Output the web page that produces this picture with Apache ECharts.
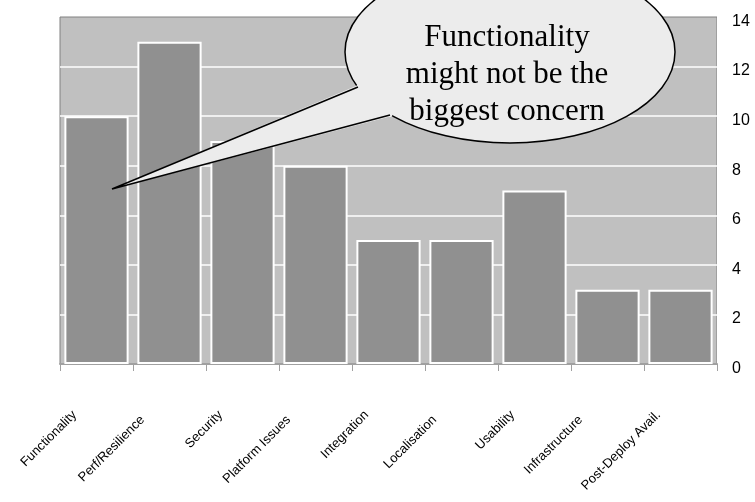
<!DOCTYPE html>
<html>
<head>
    <meta charset="utf-8">
    <script src="https://cdn.jsdelivr.net/npm/echarts@6/dist/echarts.min.js"></script>
</head>
<body style="margin:0">
    <div id="chart" style="width:755px;height:502px"></div>
<script>
// issue counts per category
const categories = ['Functionality', 'Perf/Resilience', 'Security', 'Platform Issues', 'Integration',
    'Localisation', 'Usability', 'Infrastructure', 'Post-Deploy Avail.'];
const counts = [10, 13, 9, 8, 5, 5, 7, 3, 3];
const yTicks = [0, 14, 2]; // min, max, step
const calloutLines = ['Functionality', 'might not be the', 'biggest concern'];

var option = {
    backgroundColor: '#ffffff',
    animation: false,
    grid: {
        left: 60,
        right: 38,
        top: 17,
        bottom: 138,
        show: true,
        backgroundColor: '#c0c0c0',
        borderColor: '#808080',
        borderWidth: 1,
        outerBoundsMode: 'none'
    },
    xAxis: {
        type: 'category',
        data: categories,
        axisLine: {show: true, lineStyle: {color: '#a0a0a0', width: 2}},
        axisTick: {show: true, length: 7, lineStyle: {color: '#a0a0a0', width: 1}},
        axisLabel: {
            interval: 0,
            rotate: 45,
            margin: 27,
            color: '#000',
            fontFamily: 'Liberation Sans',
            fontSize: 13,
            formatter: function (v, i) {
                // labels alternate in depth like the original
                return (i % 2 ? '{o|' : '{e|') + v + '}';
            },
            rich: {
                e: {padding: [0, 31, 0, 0], fontSize: 13, fontFamily: 'Liberation Sans', color: '#000'},
                o: {padding: [0, 38, 0, 0], fontSize: 13, fontFamily: 'Liberation Sans', color: '#000'}
            }
        },
        splitLine: {show: false}
    },
    yAxis: {
        type: 'value',
        position: 'right',
        min: yTicks[0],
        max: yTicks[1],
        interval: yTicks[2],
        axisLine: {show: true, lineStyle: {color: '#ffffff', width: 1}},
        axisTick: {show: false},
        axisLabel: {
            margin: 15,
            color: '#000',
            formatter: '{n|{value}}',
            rich: {
                n: {padding: [9, 0, 0, 0], fontFamily: 'Liberation Sans', fontSize: 16, color: '#000'}
            }
        },
        splitLine: {show: true, showMaxLine: false, lineStyle: {color: '#ffffff', width: 1.5}}
    },
    series: [{
        type: 'bar',
        data: counts,
        barCategoryGap: '12%',
        itemStyle: {color: '#909090', borderColor: '#ffffff', borderWidth: 2}
    }],
    graphic: [
        {
            type: 'ellipse',
            z: 100,
            shape: {cx: 510, cy: 52, rx: 165, ry: 91},
            style: {fill: '#ececec', stroke: '#000', lineWidth: 1.5}
        },
        {
            // fill of the pointer, overlapping the bubble outline
            type: 'polygon',
            z: 101,
            shape: {points: [[356, 86], [112, 189], [392, 116], [400, 100], [370, 75]]},
            style: {fill: '#ececec', stroke: null}
        },
        {
            type: 'polyline',
            z: 102,
            shape: {points: [[358, 87], [112, 189], [390, 115]]},
            style: {fill: null, stroke: '#000', lineWidth: 1.5}
        },
        {
            type: 'text', z: 103, x: 507, y: 38,
            style: {text: calloutLines[0], fontFamily: 'Liberation Serif', fontSize: 31, fill: '#000', align: 'center', verticalAlign: 'middle'}
        },
        {
            type: 'text', z: 103, x: 507, y: 75,
            style: {text: calloutLines[1], fontFamily: 'Liberation Serif', fontSize: 31, fill: '#000', align: 'center', verticalAlign: 'middle'}
        },
        {
            type: 'text', z: 103, x: 507, y: 112,
            style: {text: calloutLines[2], fontFamily: 'Liberation Serif', fontSize: 31, fill: '#000', align: 'center', verticalAlign: 'middle'}
        }
    ]
};

var myChart = echarts.init(document.getElementById('chart'));
myChart.setOption(option);
</script>
</body>
</html>
